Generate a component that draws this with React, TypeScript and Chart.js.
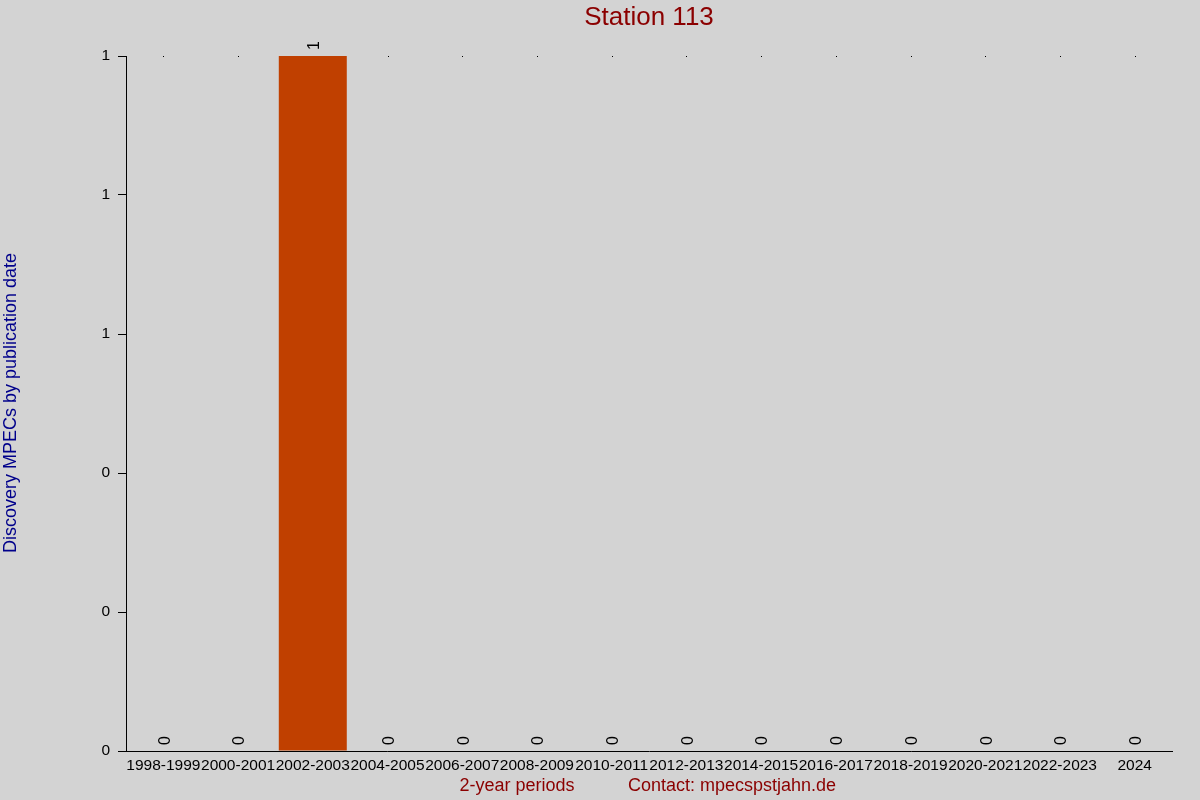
import React, { useEffect, useRef } from "react";
import { Chart, registerables } from "chart.js";

Chart.register(...registerables);

const periods = [
  "1998-1999", "2000-2001", "2002-2003", "2004-2005", "2006-2007", "2008-2009", "2010-2011",
  "2012-2013", "2014-2015", "2016-2017", "2018-2019", "2020-2021", "2022-2023", "2024",
];
const discoveries = [0, 0, 1, 0, 0, 0, 0, 0, 0, 0, 0, 0, 0, 0];

const titleText = "Station 113";
const yTitle = "Discovery MPECs by publication date";
const xTitle = "2-year periods";
const contactText = "Contact: mpecspstjahn.de";

const FONT = "'Liberation Sans', Arial, sans-serif";

// texts, value labels and the little dots on top
const decorPlugin = {
  id: "decor",
  beforeDraw(chart: any) {
    const ctx = chart.ctx;
    ctx.save();
    ctx.fillStyle = "#d3d3d3";
    ctx.fillRect(0, 0, chart.width, chart.height);
    ctx.restore();
  },
  beforeDatasetsDraw(chart: any) {
    const ctx = chart.ctx;
    const area = chart.chartArea;
    const meta = chart.getDatasetMeta(0);
    ctx.save();
    ctx.fillStyle = "#000";
    meta.data.forEach((bar: any) => {
      ctx.fillRect(Math.round(bar.x), area.top, 1, 1);
    });
    ctx.restore();
  },
  afterDatasetsDraw(chart: any) {
    const ctx = chart.ctx;
    const meta = chart.getDatasetMeta(0);
    ctx.save();
    ctx.fillStyle = "#000";
    meta.data.forEach((bar: any, i: number) => {
      ctx.save();
      ctx.translate(bar.x + 2, bar.y - 6);
      ctx.rotate(-Math.PI / 2);
      ctx.font = `16px ${FONT}`;
      ctx.textAlign = "left";
      ctx.textBaseline = "middle";
      ctx.fillText(String(discoveries[i]), 0, 0);
      ctx.restore();
    });

    ctx.fillStyle = "#8b0000";
    ctx.font = `26px ${FONT}`;
    ctx.textAlign = "center";
    ctx.textBaseline = "middle";
    ctx.fillText(titleText, 649, 18);

    ctx.font = `18px ${FONT}`;
    ctx.fillText(xTitle, 517, 786);
    ctx.fillText(contactText, 732, 786);

    ctx.fillStyle = "#00008b";
    ctx.translate(11, 403);
    ctx.rotate(-Math.PI / 2);
    ctx.fillText(yTitle, 0, 0);
    ctx.restore();
  },
};

const App = () => {
  const chartRef = useRef<HTMLCanvasElement>(null);

  useEffect(() => {
    if (!chartRef.current) return;
    const chart = new Chart(chartRef.current, {
      type: "bar",
      data: {
        labels: periods,
        datasets: [
          {
            data: discoveries,
            backgroundColor: "#c04000",
            borderWidth: 0,
            barPercentage: 0.91,
            categoryPercentage: 1,
          },
        ],
      },
      options: {
        responsive: false,
        animation: false,
        devicePixelRatio: 1,
        layout: { padding: { top: 56, right: 28, left: 0, bottom: 0 } },
        plugins: {
          legend: { display: false },
          title: { display: false },
          tooltip: { enabled: false },
        },
        scales: {
          x: {
            afterFit: (s: any) => {
              s.height = 49;
            },
            grid: { display: true, drawOnChartArea: false, drawTicks: false },
            border: { display: true, color: "#000", width: 1 },
            ticks: {
              color: "#000",
              font: { family: FONT, size: 15.5 },
              maxRotation: 0,
              autoSkip: false,
              padding: 5,
            },
          },
          y: {
            min: 0,
            max: 1,
            afterFit: (s: any) => {
              s.width = 126;
            },
            grid: { display: true, drawOnChartArea: false, drawTicks: true, tickLength: 8, color: "#000" },
            border: { display: true, color: "#000", width: 1 },
            ticks: {
              stepSize: 0.2,
              color: "#000",
              font: { family: FONT, size: 15.5 },
              padding: 8,
              callback: (v: any) => String(Math.round(Number(v))),
            },
          },
        },
      },
      plugins: [decorPlugin],
    });
    return () => {
      chart.destroy();
    };
  }, []);

  return (
    <div style={{ position: "absolute", left: 0, top: 0, width: 1200, height: 800, background: "#d3d3d3" }}>
      <canvas ref={chartRef} width={1200} height={800} />
    </div>
  );
};

export default App;
